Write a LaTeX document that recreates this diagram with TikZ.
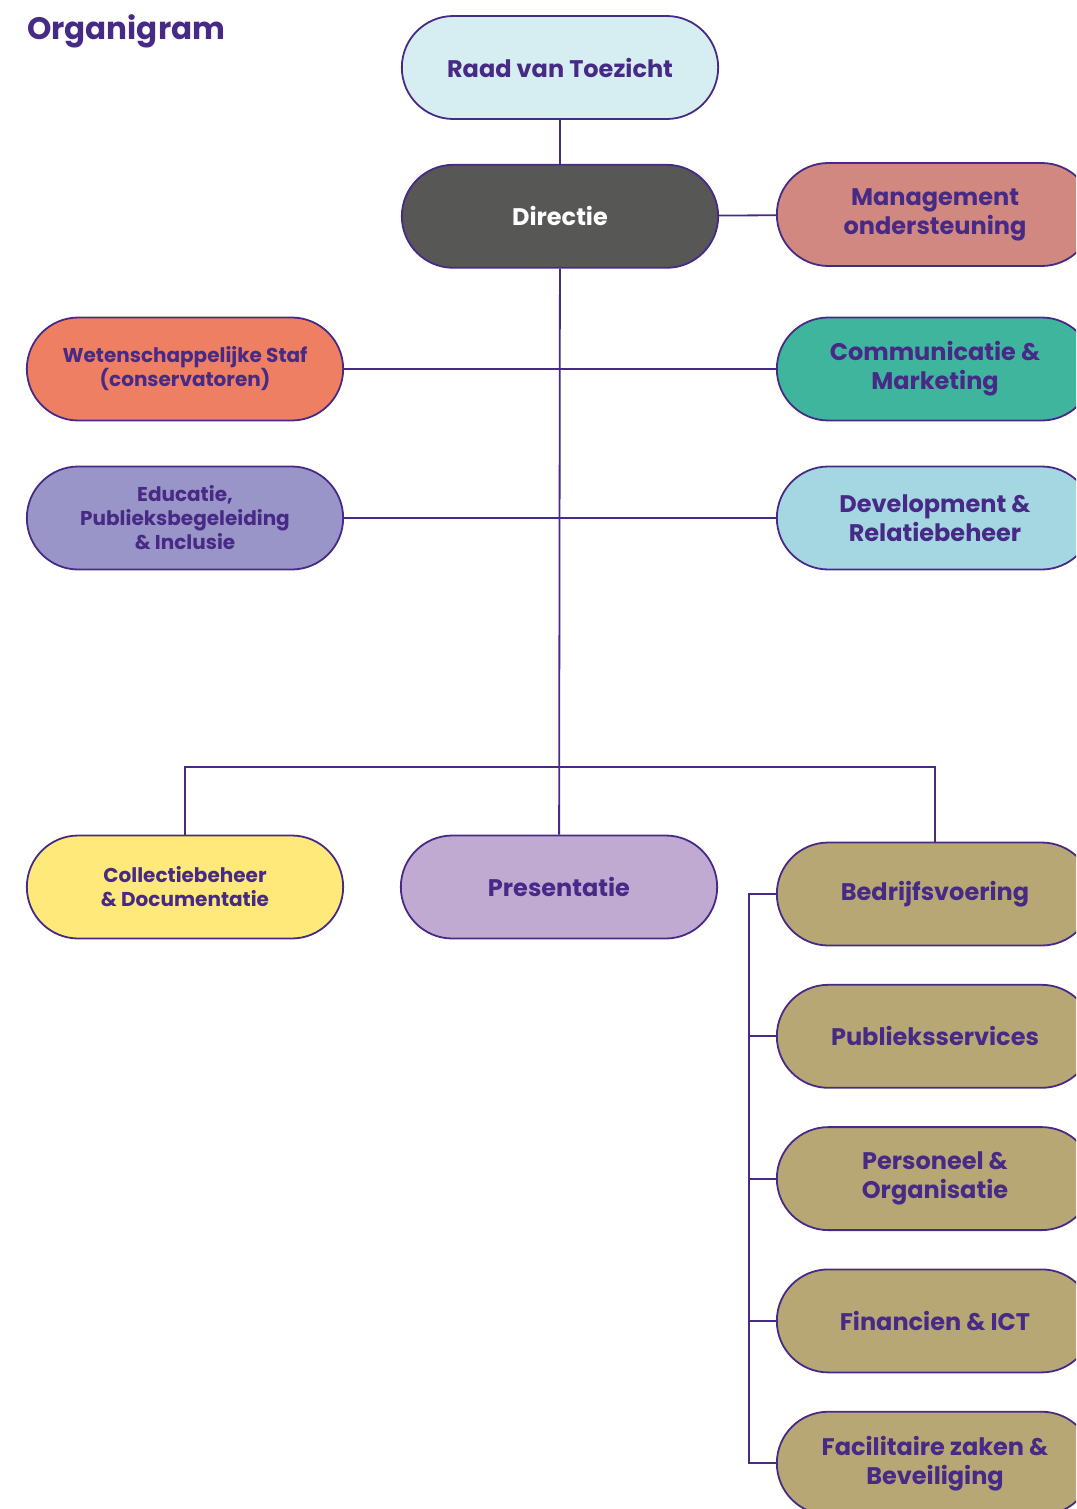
\documentclass[tikz,border=0pt]{standalone}
\usepackage{fontspec}
\setmainfont{Poppins}
\usetikzlibrary{shapes.misc,positioning}

\definecolor{ink}{HTML}{472A86}
\definecolor{rvtfill}{HTML}{D6EDF1}
\definecolor{dirfill}{HTML}{575756}
\definecolor{mofill}{HTML}{D08880}
\definecolor{cmfill}{HTML}{3FB59D}
\definecolor{drfill}{HTML}{A4D7E1}
\definecolor{wsfill}{HTML}{EF7F62}
\definecolor{epfill}{HTML}{9A95C8}
\definecolor{cdfill}{HTML}{FEE97A}
\definecolor{prfill}{HTML}{C0AAD2}
\definecolor{bvfill}{HTML}{B7A774}

\begin{document}
\begin{tikzpicture}[x=1pt,y=-1pt,node distance=37.5pt,
    unit/.style={rounded rectangle,draw=ink,line width=1.8pt,minimum width=323pt,
        minimum height=103pt,align=center,text=ink,
        font=\bfseries\fontsize{24}{29}\selectfont},
    slim/.style={font=\bfseries\fontsize{20}{24}\selectfont},
    link/.style={draw=ink,line width=1.8pt}]

    \useasboundingbox (0,0) rectangle (1076,1509);
    \clip (0,0) rectangle (1076,1509);

    \node[anchor=base west,inner sep=0pt,text=ink,
        font=\bfseries\fontsize{31}{31}\selectfont] (title) at (27,40) {Organigram};

    \node[unit,fill=rvtfill] (rvt) at (560,67.5) {Raad van Toezicht};
    \node[unit,fill=dirfill,text=white] (dir) [below=44pt of rvt] {Directie};
    \node[unit,fill=mofill] (mo) at (935,214.5) {Management\\ondersteuning};

    \node[unit,slim,fill=wsfill] (ws) at (185,369) {Wetenschappelijke Staf\\(conservatoren)};
    \node[unit,fill=cmfill] (cm) at (935,369) {Communicatie \&\\Marketing};
    \node[unit,slim,fill=epfill] (ep) at (185,518) {Educatie,\\Publieksbegeleiding\\\& Inclusie};
    \node[unit,fill=drfill] (dr) at (935,518) {Development \&\\Relatiebeheer};

    \node[unit,slim,fill=cdfill] (cd) at (185,887) {Collectiebeheer\\\& Documentatie};
    \node[unit,fill=prfill] (pr) at (559,887) {Presentatie};
    \node[unit,fill=bvfill] (bv) at (935,894) {Bedrijfsvoering};
    \node[unit,fill=bvfill] (ps) [below=of bv] {Publieksservices};
    \node[unit,fill=bvfill] (po) [below=of ps] {Personeel \&\\Organisatie};
    \node[unit,fill=bvfill] (fi) [below=of po] {Financien \& ICT};
    \node[unit,fill=bvfill] (fz) [below=of fi] {Facilitaire zaken \&\\Beveiliging};

    \coordinate (bus) at (559,767);
    \coordinate (rail) at (749,894);

    \path[link] (rvt) edge (dir)
                (dir) edge (mo)
                      edge (pr)
                (ws) edge (cm)
                (ep) edge (dr);

    \draw[link] (cd.north) |- (bus) -| (bv.north);
    \draw[link] (bv.west) -- (rail) |- (fz.west);
    \foreach \n in {ps,po,fi}
        \draw[link] (\n.west) -- (\n.west -| rail);

\end{tikzpicture}
\end{document}
